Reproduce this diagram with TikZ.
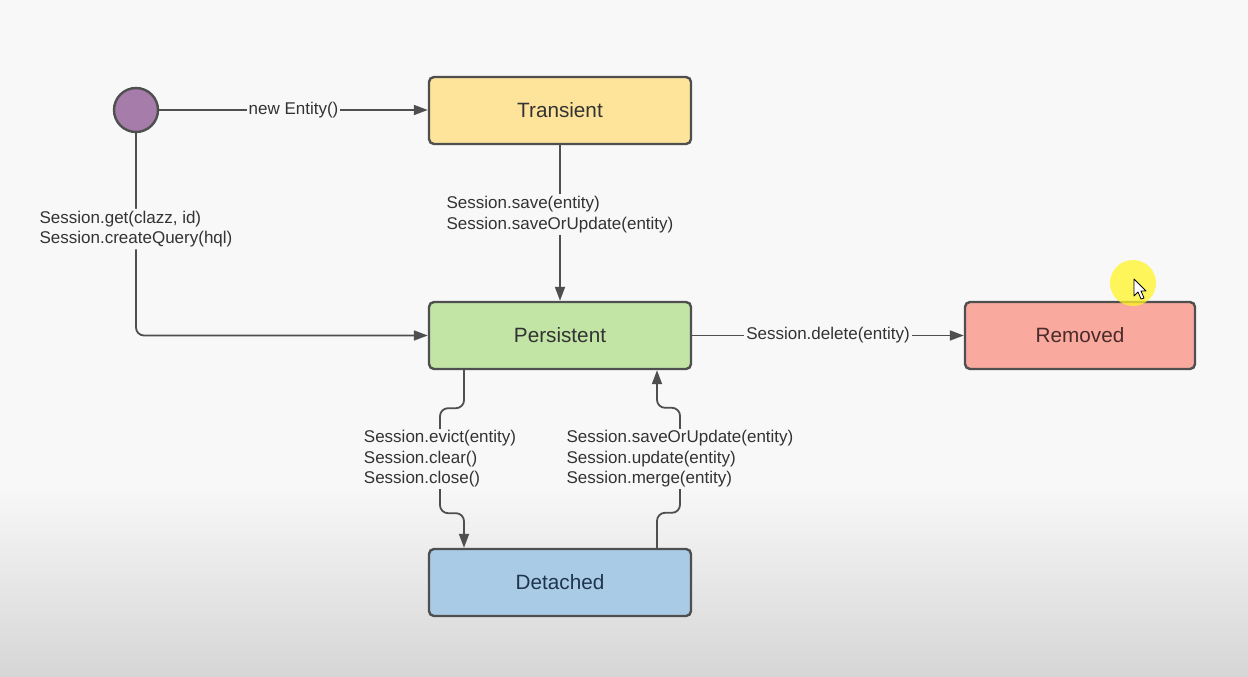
\documentclass[tikz,border=0pt]{standalone}
\usepackage{fontspec}
\setmainfont{Liberation Sans}
\usetikzlibrary{arrows.meta,calc}

\definecolor{bgtop}{HTML}{F8F8F8}
\definecolor{bgbot}{HTML}{D6D6D6}
\definecolor{linec}{HTML}{4F4F4F}
\definecolor{txtc}{HTML}{333333}
\definecolor{transfill}{HTML}{FDE49A}
\definecolor{persfill}{HTML}{C2E4A5}
\definecolor{remfill}{HTML}{F9A99D}
\definecolor{detfill}{HTML}{A9CBE5}
\definecolor{startfill}{HTML}{A57CAA}
\definecolor{remtxt}{HTML}{4A2A2A}
\definecolor{dettxt}{HTML}{1F344F}

\tikzset{
  statebox/.style={draw=linec, line width=2.4pt, rounded corners=5pt,
    minimum width=262pt, minimum height=67pt, inner sep=0pt, text=txtc,
    font=\fontsize{20.7}{24}\selectfont},
  startdot/.style={circle, draw=linec, line width=2.4pt, fill=startfill,
    minimum size=44pt, inner sep=0pt},
  conn/.style={draw=linec, line width=1.8pt,
    -{Triangle[length=14pt,width=10pt]}},
  lbl/.style={fill=bgtop, text=txtc, inner sep=2pt, align=left,
    font=\fontsize{17}{20.5}\selectfont}
}

\begin{document}
\begin{tikzpicture}[x=1pt, y=-1pt]
  % canvas
  \useasboundingbox (0,0) rectangle (1248,677);
  \fill[bgtop] (0,0) rectangle (1248,677);
  \shade[top color=bgtop, bottom color=bgbot] (0,485) rectangle (1248,677);

  % states
  \node[startdot] (start) at (136,110) {};
  \node[statebox, fill=transfill] (trans) at (560,110.5) {Transient};
  \node[statebox, fill=persfill] (pers) at (560,335.5) {Persistent};
  \node[statebox, fill=remfill, minimum width=230pt, text=remtxt]
    (rem) at (1080,335.5) {Removed};
  \node[statebox, fill=detfill, text=dettxt] (det) at (560,582.5) {Detached};

  % transitions
  \draw[conn] (start.east) -- node[lbl] {new Entity()} (start.east -| trans.west);

  \draw[conn, rounded corners=8pt] (start.south) |-
    node[lbl, pos=0.237] {Session.get(clazz, id)\\Session.createQuery(hql)} (pers.west);

  \draw[conn] (trans.south) --
    node[lbl, pos=0.445] {Session.save(entity)\\Session.saveOrUpdate(entity)} (pers.north);

  \draw[conn] (pers.east) -- node[lbl] {Session.delete(entity)} (rem.west);

  % persistent -> detached
  \coordinate (e1) at ($(pers.south)+(-96,0)$);
  \coordinate (e2) at ($(det.north)+(-96,0)$);
  \draw[conn, rounded corners=8pt] (e1) -- ++(0,38) -- ++(-24,0) -- ++(0,105)
    -- ++(24,0) -- (e2);
  \node[lbl] (evictlbl) at (440,459)
    {Session.evict(entity)\\Session.clear()\\Session.close()};

  % detached -> persistent
  \coordinate (r1) at ($(det.north)+(97,0)$);
  \coordinate (r2) at ($(pers.south)+(97,0)$);
  \draw[conn, rounded corners=8pt] (r1) -- ++(0,-35) -- ++(23,0) -- ++(0,-105)
    -- ++(-23,0) -- (r2);
  \node[lbl] (reattlbl) at (680,459)
    {Session.saveOrUpdate(entity)\\Session.update(entity)\\Session.merge(entity)};

  % pointer highlight
  \fill[yellow!85!white, opacity=0.75] (1133,283) circle (23);
  \filldraw[fill=white, draw=black, line width=0.8pt, line join=round]
    (1134,279) -- (1134,296) -- (1138,292) -- (1141,299) -- (1144,298)
    -- (1141,291) -- (1146,291) -- cycle;
\end{tikzpicture}
\end{document}
